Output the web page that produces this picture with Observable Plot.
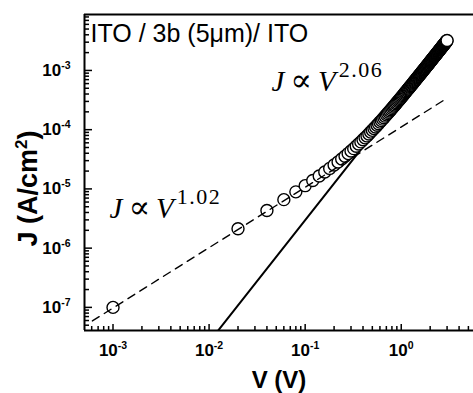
<!DOCTYPE html>
<html><head><meta charset="utf-8">
<script src="https://cdn.jsdelivr.net/npm/d3@7"></script>
<script src="https://cdn.jsdelivr.net/npm/@observablehq/plot@0.6"></script>
<style>
html,body{margin:0;padding:0;background:#fff;}
</style>
</head><body><div id="chart"></div>
<script>
const voltage = [0.001,
  0.02,0.04,0.06,0.08,0.10,0.12,0.14,0.16,0.18,0.20,0.22,0.24,0.26,0.28,0.30,0.32,0.34,0.36,0.38,0.40,
  0.42,0.44,0.46,0.48,0.50,0.52,0.54,0.56,0.58,0.60,0.62,0.64,0.66,0.68,0.70,0.72,0.74,0.76,0.78,0.80,
  0.82,0.84,0.86,0.88,0.90,0.92,0.94,0.96,0.98,1.00,1.02,1.04,1.06,1.08,1.10,1.12,1.14,1.16,1.18,1.20,
  1.22,1.24,1.26,1.28,1.30,1.32,1.34,1.36,1.38,1.40,1.42,1.44,1.46,1.48,1.50,1.52,1.54,1.56,1.58,1.60,
  1.62,1.64,1.66,1.68,1.70,1.72,1.74,1.76,1.78,1.80,1.82,1.84,1.86,1.88,1.90,1.92,1.94,1.96,1.98,2.00,
  2.02,2.04,2.06,2.08,2.10,2.12,2.14,2.16,2.18,2.20,2.22,2.24,2.26,2.28,2.30,2.32,2.34,2.36,2.38,2.40,
  2.42,2.44,2.46,2.48,2.50,2.52,2.54,2.56,2.58,2.60,2.62,2.64,2.66,2.68,2.70,2.72,2.74,2.76,2.78,2.80,
  2.82,2.84,2.86,2.88,2.90,2.92,2.94,2.96,2.98,3.00];
const logJ = [-7.000,
  -5.672,-5.364,-5.181,-5.050,-4.945,-4.858,-4.783,-4.715,-4.654,-4.597,-4.545,-4.495,-4.448,-4.404,-4.361,-4.320,-4.280,-4.243,-4.206,-4.171,
  -4.138,-4.105,-4.072,-4.041,-4.011,-3.982,-3.954,-3.926,-3.899,-3.872,-3.847,-3.822,-3.797,-3.772,-3.750,-3.728,-3.706,-3.683,-3.662,-3.642,
  -3.621,-3.602,-3.583,-3.563,-3.545,-3.525,-3.508,-3.490,-3.473,-3.455,-3.438,-3.422,-3.406,-3.390,-3.374,-3.359,-3.344,-3.328,-3.314,-3.299,
  -3.285,-3.271,-3.257,-3.244,-3.231,-3.217,-3.204,-3.191,-3.179,-3.166,-3.154,-3.142,-3.129,-3.118,-3.106,-3.095,-3.083,-3.072,-3.061,-3.050,
  -3.039,-3.028,-3.018,-3.007,-2.997,-2.987,-2.976,-2.966,-2.956,-2.947,-2.937,-2.927,-2.918,-2.908,-2.899,-2.890,-2.881,-2.872,-2.863,-2.854,
  -2.845,-2.836,-2.828,-2.819,-2.811,-2.802,-2.794,-2.786,-2.777,-2.769,-2.761,-2.754,-2.746,-2.738,-2.730,-2.722,-2.715,-2.707,-2.700,-2.693,
  -2.685,-2.678,-2.671,-2.664,-2.657,-2.649,-2.642,-2.635,-2.628,-2.622,-2.615,-2.608,-2.601,-2.595,-2.588,-2.582,-2.575,-2.569,-2.562,-2.556,
  -2.550,-2.543,-2.537,-2.531,-2.525,-2.519,-2.513,-2.506,-2.500,-2.494];

// Fit lines (end points)
const ohmicFitV = [6.1e-4, 3.0];     // J ∝ V^1.02 (dashed)
const ohmicFitJ = [5.9e-8, 3.4e-4];
const sclcFitV = [0.01, 3.0];        // J ∝ V^2.06 (solid)
const sclcFitJ = [2.6e-8, 3.26e-3];

// Axes
const xDomain = [5.05e-4, 5.65];
const yDomain = [4.07e-8, 8.8e-3];
const xMajorTicks = [1e-3, 1e-2, 1e-1, 1];
const xMinorTicks = [6e-4,7e-4,8e-4,9e-4, 2e-3,3e-3,4e-3,5e-3,6e-3,7e-3,8e-3,9e-3,
  2e-2,3e-2,4e-2,5e-2,6e-2,7e-2,8e-2,9e-2, 0.2,0.3,0.4,0.5,0.6,0.7,0.8,0.9, 2,3,4,5];
const yMajorTicks = [1e-7, 1e-6, 1e-5, 1e-4, 1e-3];
const yMinorTicks = [5e-8,6e-8,7e-8,8e-8,9e-8, 2e-7,3e-7,4e-7,5e-7,6e-7,7e-7,8e-7,9e-7,
  2e-6,3e-6,4e-6,5e-6,6e-6,7e-6,8e-6,9e-6, 2e-5,3e-5,4e-5,5e-5,6e-5,7e-5,8e-5,9e-5,
  2e-4,3e-4,4e-4,5e-4,6e-4,7e-4,8e-4,9e-4, 2e-3,3e-3,4e-3,5e-3,6e-3,7e-3,8e-3];

// Texts
const sampleTitle = "ITO / 3b (5μm)/ ITO";
const xTitle = "V (V)";
const yTitle = "J (A/cm^2)";
const fitLabels = ["J∝V^2.06", "J∝V^1.02"];
const fitLabelV = [0.0445, 9.2e-4];
const fitLabelJ = [6.4e-4, 4.6e-6];

const W = 473, H = 393, ML = 84, MR = 0, MT = 14, MB = 63;
const innerW = W - ML - MR, innerH = H - MT - MB;

const points = voltage.map((v, i) => ({V: v, J: Math.pow(10, logJ[i])}));
const ohmic = ohmicFitV.map((v, i) => ({V: v, J: ohmicFitJ[i]}));
const sclc = sclcFitV.map((v, i) => ({V: v, J: sclcFitJ[i]}));
const labels = fitLabels.map((t, i) => ({t, V: fitLabelV[i], J: fitLabelJ[i]}));
const expLabel = d => "10^" + Math.round(Math.log10(d));

const tickFont = "'Liberation Sans Narrow', 'Arial Narrow', 'Liberation Sans', Arial, sans-serif";

const chart = Plot.plot({
  width: W, height: H,
  marginLeft: ML, marginRight: MR, marginTop: MT, marginBottom: MB,
  style: {fontFamily: "'Liberation Sans', Arial, sans-serif", background: "white", color: "black", overflow: "visible"},
  x: {type: "log", domain: xDomain, axis: null},
  y: {type: "log", domain: yDomain, axis: null},
  marks: [
    Plot.line(sclc, {x: "V", y: "J", stroke: "black", strokeWidth: 2, clip: true}),
    Plot.dot(points, {x: "V", y: "J", r: 6, fill: "white", stroke: "black", strokeWidth: 1.4}),
    Plot.line(ohmic, {x: "V", y: "J", stroke: "black", strokeWidth: 1.4, strokeDasharray: "8,6", clip: true}),
    // frame
    Plot.ruleX([xDomain[0]], {stroke: "black", strokeWidth: 2}),
    Plot.ruleY([yDomain[0], yDomain[1]], {stroke: "black", strokeWidth: 2}),
    // ticks (inside)
    Plot.tickX(xMajorTicks, {x: d => d, insetTop: innerH - 6, stroke: "black", strokeWidth: 1.5}),
    Plot.tickX(xMinorTicks, {x: d => d, insetTop: innerH - 4, stroke: "black", strokeWidth: 1.5}),
    Plot.tickY(yMajorTicks, {y: d => d, insetRight: innerW - 8, stroke: "black", strokeWidth: 1.5}),
    Plot.tickY(yMinorTicks, {y: d => d, insetRight: innerW - 5, stroke: "black", strokeWidth: 1.5}),
    // tick labels
    Plot.text(xMajorTicks, {x: d => d, frameAnchor: "bottom", dy: 20, text: expLabel,
      fontSize: 17, fontWeight: "bold", fontFamily: tickFont, textAnchor: "middle", lineAnchor: "middle"}),
    Plot.text(yMajorTicks, {y: d => d, frameAnchor: "left", dx: -14, text: expLabel,
      fontSize: 17, fontWeight: "bold", fontFamily: tickFont, textAnchor: "end", lineAnchor: "middle"}),
    // titles
    Plot.text([xTitle], {frameAnchor: "bottom", dy: 50, text: d => d, fontSize: 24, fontWeight: "bold",
      textAnchor: "middle", lineAnchor: "middle"}),
    Plot.text([yTitle], {frameAnchor: "left", dx: -56, dy: 16, rotate: -90, text: d => d, fontSize: 27, fontWeight: "bold",
      textAnchor: "middle", lineAnchor: "middle"}),
    Plot.text([sampleTitle], {frameAnchor: "top-left", dx: 6, dy: 10, text: d => d, fontSize: 25,
      textAnchor: "start", lineAnchor: "top"}),
    // fit annotations
    Plot.text(labels, {x: "V", y: "J", text: "t", fontSize: 29, textAnchor: "start", lineAnchor: "middle",
      fontFamily: "'Liberation Serif', 'Times New Roman', serif"})
  ]
});

// superscripts and italics as real tspans
d3.select(chart).selectAll("text").each(function() {
  const t = this.textContent;
  const sel = d3.select(this);
  let m = t.match(/^10\^(-?\d+)$/);
  if (m) {
    sel.text(null);
    sel.append("tspan").text("10");
    sel.append("tspan").attr("dy", -7).attr("font-size", 10.5).text(m[1]);
    return;
  }
  m = t.match(/^J∝V\^(.+)$/);
  if (m) {
    sel.text(null);
    sel.append("tspan").attr("font-style", "italic").text("J");
    sel.append("tspan").attr("dx", 6).attr("font-family", "'DejaVu Serif', serif").attr("font-size", 32).attr("font-weight", 300).text("∝");
    sel.append("tspan").attr("dx", 6).attr("font-style", "italic").text("V");
    sel.append("tspan").attr("dy", -14).attr("dx", 3).attr("font-size", 22).attr("letter-spacing", 1.5).text(m[1]);
    return;
  }
  m = t.match(/^(J \(A\/cm)\^2\)$/);
  if (m) {
    sel.text(null);
    sel.append("tspan").text(m[1]);
    sel.append("tspan").attr("dy", -10).attr("font-size", 17).text("2");
    sel.append("tspan").attr("dy", 10).text(")");
  }
});

document.getElementById("chart").appendChild(chart);
</script>
</body></html>
